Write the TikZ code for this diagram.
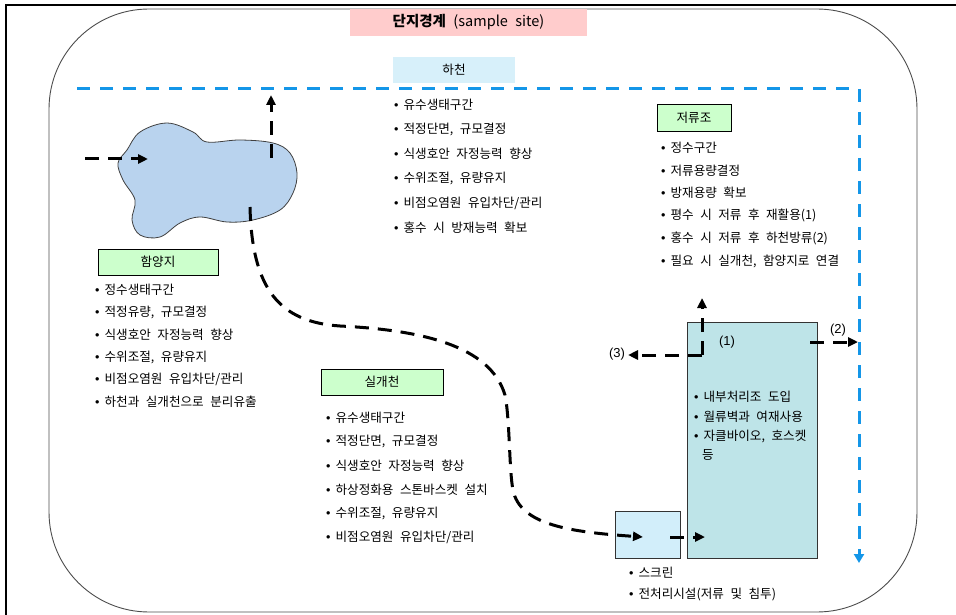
\documentclass[tikz,border=0pt]{standalone}
\usepackage{fontspec}
\setmainfont{Noto Sans CJK KR}[WordSpace=2.3]
\newfontfamily\latinf{Liberation Sans}
\usetikzlibrary{arrows.meta}
\definecolor{linkblue}{RGB}{20,150,232}
\definecolor{boxgreen}{RGB}{204,255,204}
\definecolor{titlepink}{RGB}{255,204,204}
\definecolor{riverblue}{RGB}{215,240,250}
\definecolor{tankteal}{RGB}{190,228,232}
\definecolor{screenblue}{RGB}{210,238,250}
\definecolor{pondblue}{RGB}{185,211,238}
\newcommand\kfont{\fontsize{12.6}{14}\selectfont}
\newcommand\bul{{\latinf\char"2022}\hspace{5pt}}
\begin{document}
\begin{tikzpicture}[x=1pt,y=-1pt,
  item/.style={anchor=west, inner sep=0pt, font=\kfont},
  lbl/.style={inner sep=0pt, font=\latinf\fontsize{13}{15}\selectfont},
  gbox/.style={draw=black, line width=0.8pt, fill=boxgreen, inner sep=0pt, font=\kfont},
  flow/.style={line width=3pt, dash pattern=on 14pt off 9pt, -{Triangle[length=10pt,width=9pt]}},
  blueflow/.style={draw=linkblue, line width=3pt, dash pattern=on 13pt off 10pt, -{Triangle[length=9pt,width=10pt]}},
]
\useasboundingbox (0,0) rectangle (956,615);
% outer frame
\draw[line width=1.2pt] (6,615) -- (6,5) -- (956,5);
% site boundary
\draw[draw=black!70, line width=0.9pt, rounded corners=100pt] (49,9) rectangle (917,612);
% blue river line
\coordinate (bstart) at (77,89);
\coordinate (bcorner) at (859,89);
\coordinate (bend) at (859,563);
\draw[blueflow] (bstart) -- (bcorner) -- (bend);
% title
\node[fill=titlepink, minimum width=237pt, minimum height=27pt, inner sep=0pt, font=\fontsize{14.5}{16}\selectfont] (title) at (468.5,22.5) {\textbf{단지경계} (sample site)};
% river box
\node[fill=riverblue, minimum width=122pt, minimum height=26pt, inner sep=0pt, font=\kfont] (river) at (454,70) {하천};
\foreach \t [count=\i] in {유수생태구간, {적정단면, 규모결정}, 식생호안 자정능력 향상, {수위조절, 유량유지}, 비점오염원 유입차단/관리, 홍수 시 방재능력 확보}
  \node[item] (ha\i) at (394,{105+24.6*(\i-1)}) {\bul\t};
% reservoir
\node[gbox, minimum width=74pt, minimum height=27pt] (res) at (694,117.5) {저류조};
\foreach \t [count=\i] in {정수구간, 저류용량결정, 방재용량 확보, 평수 시 저류 후 재활용(1), 홍수 시 저류 후 하천방류(2), {필요 시 실개천, 함양지로 연결}}
  \node[item] (re\i) at (661,{148+22.6*(\i-1)}) {\bul\t};
% recharge pond
\node[gbox, minimum width=120pt, minimum height=26pt] (pondlbl) at (158,262) {함양지};
\foreach \t [count=\i] in {정수생태구간, {적정유량, 규모결정}, 식생호안 자정능력 향상, {수위조절, 유량유지}, 비점오염원 유입차단/관리, 하천과 실개천으로 분리유출}
  \node[item] (po\i) at (95,{290+22.4*(\i-1)}) {\bul\t};
% small stream
\node[gbox, minimum width=122pt, minimum height=26pt] (stream) at (382,382) {실개천};
\foreach \t [count=\i] in {유수생태구간, {적정단면, 규모결정}, 식생호안 자정능력 향상, 하상정화용 스톤바스켓 설치, {수위조절, 유량유지}, 비점오염원 유입차단/관리}
  \node[item] (st\i) at (326,{418+23.8*(\i-1)}) {\bul\t};
% pond blob
\draw[fill=pondblue, draw=black!75, line width=0.8pt] plot[smooth cycle, tension=0.6] coordinates {(140,132) (167,123) (193,132) (207,142) (240,140) (273,143) (290,153) (297,173) (293,193) (280,210) (253,220) (227,222) (200,217) (180,223) (160,237) (140,235) (132,220) (135,200) (123,180) (118,163) (127,150)};
% tanks
\node[draw=black!80, line width=0.8pt, fill=tankteal, minimum width=130pt, minimum height=236pt, inner sep=0pt] (tank) at (752,440) {};
\node[draw=black!80, line width=0.8pt, fill=screenblue, minimum width=65pt, minimum height=47pt, inner sep=0pt] (screen) at (647.5,534.5) {};
\node[item] (tk1) at (694,397) {\bul 내부처리조 도입};
\node[item] (tk2) at (694,417) {\bul 월류벽과 여재사용};
\node[item] (tk3) at (694,436) {\bul 자클바이오, 호스켓};
\node[item] (tk4) at (702,455) {등};
\node[item] (sc1) at (629,573) {\bul 스크린};
\node[item] (sc2) at (629,594) {\bul 전처리시설(저류 및 침투)};
% labels
\node[lbl] (l1) at (727,342) {(1)};
\node[lbl] (l2) at (838,330) {(2)};
\node[lbl] (l3) at (617,354) {(3)};
% flow coordinates
\coordinate (inS) at (85,159);
\coordinate (inE) at (148,159);
\coordinate (upS) at (271,158);
\coordinate (upE) at (271,95);
\coordinate (cS) at (250,207);
\coordinate (cE) at (643,537);
\coordinate (tS) at (670,537);
\coordinate (tE) at (705,537);
\coordinate (k) at (702,355);
\coordinate (kU) at (702,298);
\coordinate (kL) at (628,355);
\coordinate (oS) at (810,342);
\coordinate (oE) at (858,342);
% flows
\draw[flow] (inS) -- (inE);
\draw[flow] (upS) -- (upE);
\draw[flow] (cS) .. controls (252,290) and (280,322) .. (340,326)
  .. controls (420,330) and (490,345) .. (505,395)
  .. controls (510,420) and (509,470) .. (513,490)
  .. controls (520,525) and (570,532) .. (cE);
\draw[flow] (tS) -- (tE);
\draw[flow] (k) -- (kU);
\draw[flow] (k) -- (kL);
\draw[flow] (oS) -- (oE);
\end{tikzpicture}
\end{document}
